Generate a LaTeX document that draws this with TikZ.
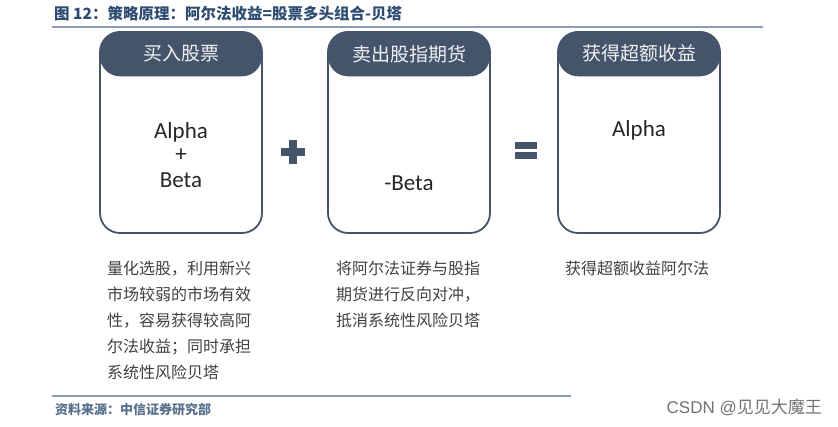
\documentclass[tikz,border=0pt]{standalone}
\usepackage{fontspec}
\setmainfont{Carlito}
\newfontfamily\cjk{Noto Sans CJK SC}
\newfontfamily\marklatin{Liberation Sans}
\usepackage{tikz}
\usetikzlibrary{positioning}

\definecolor{slate}{HTML}{44546A}
\definecolor{rulecol}{HTML}{8C9CB4}
\definecolor{titlecol}{HTML}{2E4C72}
\definecolor{bodytxt}{HTML}{404040}

\tikzset{
  card/.style={draw=slate, line width=1.8pt, rounded corners=20pt, fill=white,
    minimum width=162pt, minimum height=201pt, inner sep=0pt},
  cardhead/.style={fill=slate, rounded corners=20pt, minimum width=162pt,
    minimum height=45pt, inner sep=0pt, text=white!92!slate,
    font=\cjk\fontsize{19}{22}\selectfont},
  cardbody/.style={align=center, text=black!85,
    font=\fontsize{23}{26}\selectfont},
  note/.style={anchor=north west, align=left, text=bodytxt, inner sep=0pt,
    font=\cjk\fontsize{16}{26}\selectfont}
}

\begin{document}
\begin{tikzpicture}[x=1pt,y=-1pt]
\useasboundingbox (0,0) rectangle (838,426);

% title and rules
\node[anchor=west, inner sep=0pt, text=titlecol, font=\cjk\bfseries\fontsize{15.5}{17}\selectfont]
  (title) at (54,14) {图 12：策略原理：阿尔法收益=股票多头组合-贝塔};
\draw[rulecol, line width=2pt] (52,27) -- (763,27);
\draw[rulecol, line width=2pt] (52,396) -- (571,396);
\node[anchor=west, inner sep=0pt, text=titlecol!80, font=\cjk\bfseries\fontsize{13}{15}\selectfont]
  (source) at (55,410) {资料来源：中信证券研究部};
\node[anchor=east, inner sep=0pt, text=black!55, font=\cjk\fontsize{17}{19}\selectfont]
  (mark) at (822,408) {{\marklatin CSDN @}见见大魔王};

% three cards
\node[card] (buy) at (181,132.5) {};
\node[cardhead, anchor=north] (buyhead) at (buy.north) {买入股票};
\node[cardbody] (buytext) at (181,155) {Alpha\\[-3pt]+\\Beta};

\node[card] (sell) at (409,132.5) {};
\node[cardhead, anchor=north] (sellhead) at (sell.north) {卖出股指期货};
\node[cardbody] (selltext) at (409,183) {-Beta};

\node[card] (gain) at (639,132.5) {};
\node[cardhead, anchor=north] (gainhead) at (gain.north) {获得超额收益};
\node[cardbody] (gaintext) at (639,130) {Alpha};

% operators
\fill[slate] (281,148) rectangle (305,156);
\fill[slate] (289,140) rectangle (297,164);
\fill[slate] (515,141.5) rectangle (537,148.5);
\fill[slate] (515,151.5) rectangle (537,158.5);

% notes below
\node[note] (buynote) at (107,261) {量化选股，利用新兴\\市场较弱的市场有效\\性，容易获得较高阿\\尔法收益；同时承担\\系统性风险贝塔};
\node[note] (sellnote) at (336,261) {将阿尔法证券与股指\\期货进行反向对冲，\\抵消系统性风险贝塔};
\node[note] (gainnote) at (565,261) {获得超额收益阿尔法};
\end{tikzpicture}
\end{document}
